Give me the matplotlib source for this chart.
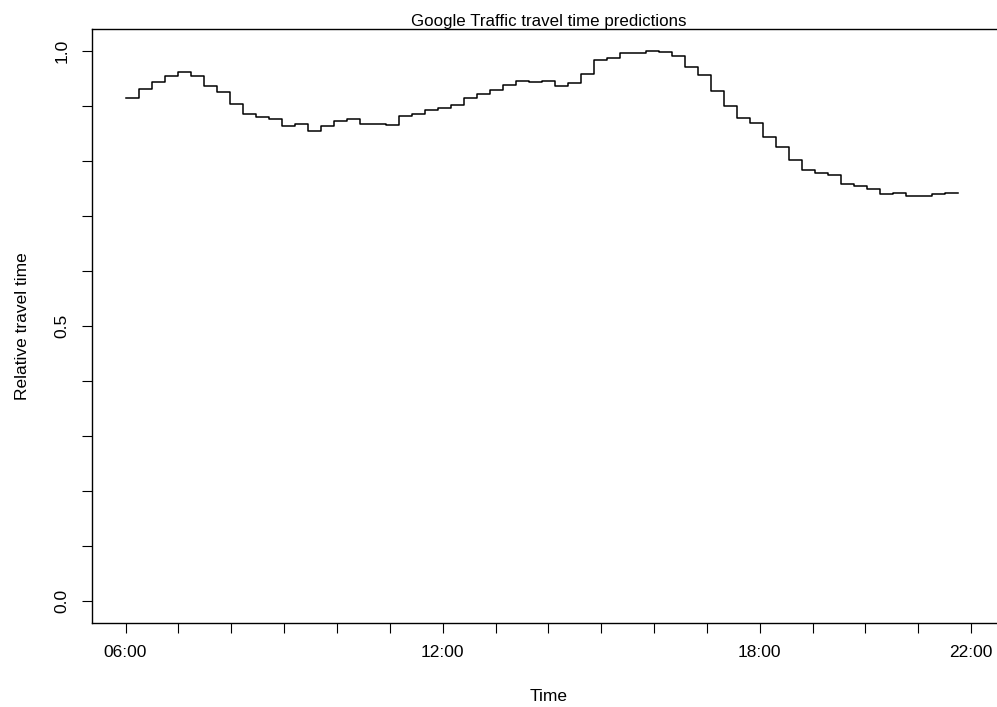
import pandas as pd
import matplotlib
matplotlib.use('Agg')
import matplotlib.pyplot as plt
import matplotlib.dates as mdates
import matplotlib.ticker as mticker

plt.rcParams['font.family'] = ['Liberation Sans', 'DejaVu Sans']

# relative travel time, one value per interval from 06:00 to 21:45
travel_time = [0.914, 0.931, 0.944, 0.955, 0.961, 0.955, 0.936, 0.925, 0.903, 0.886,
               0.880, 0.877, 0.863, 0.868, 0.854, 0.863, 0.872, 0.876, 0.868, 0.867,
               0.866, 0.882, 0.885, 0.893, 0.896, 0.901, 0.914, 0.921, 0.929, 0.939,
               0.945, 0.944, 0.946, 0.936, 0.941, 0.958, 0.984, 0.988, 0.997, 0.996,
               1.000, 0.998, 0.991, 0.971, 0.957, 0.928, 0.900, 0.879, 0.869, 0.844,
               0.825, 0.802, 0.783, 0.778, 0.774, 0.758, 0.755, 0.749, 0.740, 0.741,
               0.737, 0.737, 0.740, 0.742, 0.742]
start_time = '2000-01-01 06:00'
end_time = '2000-01-01 21:45'
label_hours = [6, 12, 18, 22]
y_labels = [0.0, 0.5, 1.0]

times = pd.date_range(start_time, end_time, periods=len(travel_time))

fig = plt.figure(figsize=(9.97, 7.07), dpi=100)
# the plot box runs past the right edge of the picture (R device was cut off)
left_px, right_px, box_px = 91.7, 1100.0, 1005.0
ax = fig.add_axes([left_px / 997, (707 - 623) / 707, (right_px - left_px) / 997, (623 - 29) / 707])

ax.step(times, travel_time, where='post', color='black', linewidth=1.1)

# R style 4% padding around 06:00-22:00 and 0-1
x0 = pd.Timestamp('2000-01-01 06:00')
x1 = pd.Timestamp('2000-01-01 22:00')
pad = (x1 - x0) * 0.04
span = (x1 - x0) + 2 * pad
ax.set_xlim(x0 - pad, x0 - pad + span * ((right_px - left_px) / (box_px - left_px)))
ax.set_ylim(-0.04, 1.04)

ax.xaxis.set_major_locator(mdates.HourLocator(byhour=label_hours))
ax.xaxis.set_minor_locator(mdates.HourLocator(byhour=range(6, 23)))
ax.xaxis.set_major_formatter(mdates.DateFormatter('%H:%M'))
ax.xaxis.set_minor_formatter(mticker.NullFormatter())

ax.yaxis.set_major_locator(mticker.FixedLocator(y_labels))
ax.yaxis.set_minor_locator(mticker.MultipleLocator(0.1))
ax.yaxis.set_major_formatter(mticker.FormatStrFormatter('%.1f'))

ax.tick_params(which='both', direction='out', length=7, width=0.8, color='black')
ax.tick_params(axis='x', which='major', labelsize=12.5, pad=9)
ax.tick_params(axis='y', which='major', labelsize=12.5, pad=9)
for lbl in ax.get_yticklabels():
    lbl.set_rotation(90)
    lbl.set_va('center')

for side in ['left', 'bottom', 'top']:
    ax.spines[side].set_linewidth(1.0)
ax.spines['right'].set_visible(False)

# title and x label centred on the original box, not on the wider axes
mid = 0.5 * (box_px - left_px) / (right_px - left_px)
ax.set_title('Google Traffic travel time predictions', fontsize=12.2, pad=2.5, x=mid)
ax.set_xlabel('Time', fontsize=12.5, labelpad=21, x=mid)
ax.set_ylabel('Relative travel time', fontsize=12.5, labelpad=17.5)

fig.savefig('out.png', dpi=100)
